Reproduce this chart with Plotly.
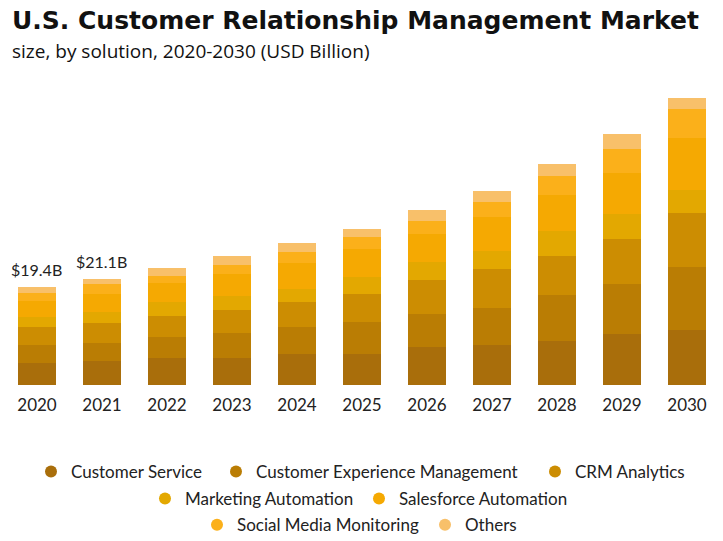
import plotly.graph_objects as go

years = ["2020", "2021", "2022", "2023", "2024", "2025", "2026", "2027", "2028", "2029", "2030"]

customer_service = [4.31, 4.73, 5.41, 5.35, 6.08, 6.14, 7.52, 7.86, 8.65, 10.10, 10.83]
customer_experience = [3.64, 3.68, 4.22, 4.89, 5.41, 6.34, 6.53, 7.46, 9.24, 9.96, 12.53]
crm_analytics = [3.64, 3.88, 4.16, 4.69, 5.09, 5.68, 6.73, 7.78, 7.79, 8.91, 10.75]
marketing_automation = [1.85, 2.17, 2.71, 2.77, 2.57, 3.29, 3.56, 3.50, 4.82, 4.95, 4.55]
salesforce_automation = [3.24, 3.61, 3.83, 4.36, 5.15, 5.48, 5.60, 6.85, 7.19, 8.26, 10.50]
social_media = [1.53, 1.91, 1.25, 1.85, 2.18, 2.38, 2.71, 2.91, 3.76, 4.69, 5.68]
others = [1.19, 1.12, 1.65, 1.78, 1.72, 1.72, 2.12, 2.18, 2.44, 2.91, 2.18]

label_years = ["2020", "2021"]
label_totals = [19.4, 21.1]

# name, values, colour, legend id, legend x (px), legend y (paper)
series = [
    ("Customer Service", customer_service, "#a96e0b", "legend", 23, -0.288),
    ("Customer Experience Management", customer_experience, "#ba7d04", "legend2", 208, -0.288),
    ("CRM Analytics", crm_analytics, "#cc8d02", "legend3", 527, -0.288),
    ("Marketing Automation", marketing_automation, "#e3a801", "legend4", 137, -0.377),
    ("Salesforce Automation", salesforce_automation, "#f5a902", "legend5", 351, -0.377),
    ("Social Media Monitoring", social_media, "#fbb01a", "legend6", 189, -0.464),
    ("Others", others, "#f8c06a", "legend7", 417, -0.464),
]

W, H = 723, 541
fig = go.Figure()
legends = {}
for name, vals, color, leg, lx, ly in series:
    fig.add_trace(go.Bar(
        x=years, y=vals, name=name, marker_color=color,
        marker_line_width=0, showlegend=False,
    ))
    # round legend markers, one small legend per entry
    fig.add_trace(go.Scatter(
        x=[None], y=[None], mode="markers", name=name, legend=leg,
        marker=dict(color=color, size=12, symbol="circle"),
    ))
    legends[leg] = dict(orientation="h", xanchor="left", x=lx / W, yanchor="middle", y=ly,
                        font=dict(size=17, color="#222", family="Lato"),
                        bgcolor="rgba(0,0,0,0)", itemwidth=30)

for yr, tot in zip(label_years, label_totals):
    fig.add_annotation(x=years.index(yr), y=tot, text=f"${tot}B", showarrow=False,
                       yanchor="bottom", yshift=6,
                       font=dict(size=16, color="#222", family="Lato"))

fig.add_annotation(xref="paper", yref="paper", x=0.003, y=1.0, yshift=63,
                   xanchor="left", yanchor="middle", showarrow=False,
                   text="<b>U.S. Customer Relationship Management Market</b>",
                   font=dict(size=25, color="#111", family="DejaVu Sans"))
fig.add_annotation(xref="paper", yref="paper", x=0.003, y=1.0, yshift=32,
                   xanchor="left", yanchor="middle", showarrow=False,
                   text="size, by solution, 2020-2030 (USD Billion)",
                   font=dict(size=19, color="#111", family="Open Sans"))

fig.update_layout(
    barmode="stack",
    bargap=0.43,
    width=W, height=H,
    margin=dict(l=0, r=0, t=75, b=164),
    plot_bgcolor="white", paper_bgcolor="white",
    xaxis=dict(type="category", range=[-0.446, 10.677], showgrid=False, showline=False,
               ticks="outside", ticklen=5, tickcolor="rgba(0,0,0,0)",
               tickfont=dict(size=17, color="#222", family="Lato")),
    yaxis=dict(range=[0, 60], visible=False),
    **legends,
)

fig.write_html("out.html")
